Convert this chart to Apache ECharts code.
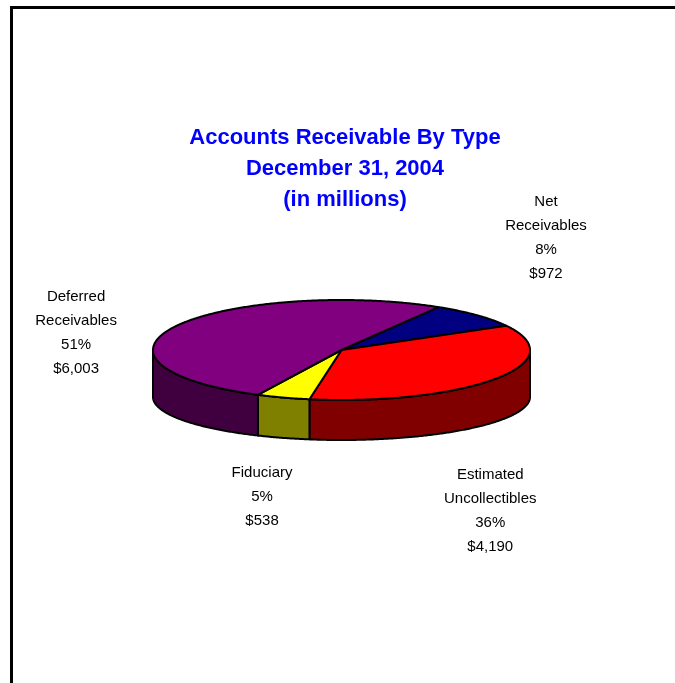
<!DOCTYPE html>
<html>
<head>
<meta charset="utf-8">
<script src="https://cdn.jsdelivr.net/npm/echarts@6/dist/echarts.min.js"></script>
<style>
  html, body { margin: 0; padding: 0; background: #ffffff; }
  #chart { width: 675px; height: 683px; }
</style>
</head>
<body>
<div id="chart"></div>
<script>
// Accounts receivable by type, December 31, 2004 (in millions of dollars)
const categories = ['Net\nReceivables', 'Estimated\nUncollectibles', 'Fiduciary', 'Deferred\nReceivables'];
const amounts = [972, 4190, 538, 6003];

// Styling and layout of the tilted pie
const topColors = ['#000080', '#FF0000', '#FFFF00', '#800080'];
const sideColors = ['#000040', '#800000', '#808000', '#400040'];
const PIE = { cx: 341.5, cy: 350, rx: 188.5, ry: 50, depth: 47, bottomRy: 43, startAngle: 59 };
// label placement relative to the slice's rim point at its middle angle
const labelOffsets = [[69, -77], [-5, 132], [-21, 99], [-100, 7]];
const FONT = '"Liberation Sans", Arial, sans-serif';

const total = amounts.reduce((a, b) => a + b, 0);

function sliceAngles(i) {
  let start = PIE.startAngle;
  for (let k = 0; k < i; k++) start -= amounts[k] / total * 360;
  return [start, start - amounts[i] / total * 360];
}

function rim(deg, bottom) {
  const t = deg * Math.PI / 180;
  if (bottom) {
    return [PIE.cx + PIE.rx * Math.cos(t), PIE.cy + PIE.depth - PIE.bottomRy * Math.sin(t)];
  }
  return [PIE.cx + PIE.rx * Math.cos(t), PIE.cy - PIE.ry * Math.sin(t)];
}

function arc(from, to, bottom) {
  const pts = [];
  const n = Math.max(2, Math.ceil(Math.abs(from - to) / 0.5) + 1);
  for (let j = 0; j < n; j++) pts.push(rim(from + (to - from) * j / (n - 1), bottom));
  return pts;
}

function formatMoney(v) {
  return '$' + v.toLocaleString('en-US');
}

function renderSlice(params, api) {
  const i = params.dataIndex;
  const value = api.value(0);
  const [s, e] = sliceAngles(i);
  const children = [];
  const stroke = { stroke: '#000000', lineWidth: 2, lineJoin: 'round' };

  // visible outer wall: the part of the arc on the front half of the disc
  for (let k = -2; k <= 1; k++) {
    const lo = -180 + 360 * k, hi = 360 * k;
    const a = Math.min(s, hi), b = Math.max(e, lo);
    if (a > b) {
      const pts = arc(a, b, false).concat(arc(b, a, true));
      children.push({
        type: 'polygon',
        shape: { points: pts },
        style: Object.assign({ fill: sideColors[i] }, stroke)
      });
    }
  }

  // top face
  children.push({
    type: 'polygon',
    shape: { points: [[PIE.cx, PIE.cy]].concat(arc(s, e, false)) },
    style: Object.assign({ fill: topColors[i] }, stroke)
  });

  // label: name, share and amount
  const mid = (s + e) / 2;
  const p = rim(mid, false);
  const pct = Math.round(value / total * 100) + '%';
  children.push({
    type: 'text',
    x: p[0] + labelOffsets[i][0],
    y: p[1] + labelOffsets[i][1],
    style: {
      text: categories[i] + '\n' + pct + '\n' + formatMoney(value),
      fill: '#000000',
      fontFamily: FONT,
      fontSize: 15,
      lineHeight: 24,
      align: 'center',
      verticalAlign: 'middle'
    }
  });

  return { type: 'group', children: children };
}

const chart = echarts.init(document.getElementById('chart'), null, { renderer: 'canvas' });
chart.setOption({
  animation: false,
  backgroundColor: '#ffffff',
  title: {
    text: 'Accounts Receivable By Type\nDecember 31, 2004\n(in millions)',
    left: 340,
    top: 117,
    textAlign: 'center',
    textStyle: {
      color: '#0000FF',
      fontFamily: FONT,
      fontWeight: 'bold',
      fontSize: 22,
      lineHeight: 31
    }
  },
  graphic: [{
    type: 'rect',
    shape: { x: 11.5, y: 7.5, width: 720, height: 720 },
    style: { fill: 'none', stroke: '#000000', lineWidth: 3 },
    silent: true
  }],
  series: [{
    type: 'custom',
    coordinateSystem: 'none',
    renderItem: renderSlice,
    data: amounts.map((v, i) => ({ value: [v], name: categories[i] }))
  }]
});
</script>
</body>
</html>
